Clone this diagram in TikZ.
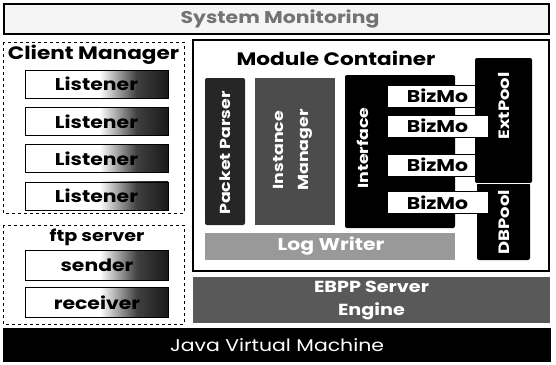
\documentclass[tikz,border=0pt]{standalone}
\usepackage{fontspec}
\setmainfont[FakeStretch=1.2]{Poppins}
\usetikzlibrary{positioning}

\pgfdeclarehorizontalshading{lstshade}{100bp}{color(0bp)=(white); color(25bp)=(white);
  color(51bp)=(white); color(64bp)=(black!75); color(75bp)=(black!90); color(100bp)=(black!90)}

\begin{document}
\begin{tikzpicture}[x=1pt,y=-1pt,inner sep=0pt,
    box/.style={draw, line width=0.8pt},
    lst/.style={box, minimum width=143pt, minimum height=28pt, shading=lstshade,
      font=\fontsize{17}{17}\selectfont\bfseries},
    group/.style={draw, dashed, line width=0.8pt},
    title/.style={font=\fontsize{18}{18}\selectfont\bfseries},
    dark/.style={fill=black, rounded corners=2pt, text=white},
    vert/.style={rotate=90, text=white, font=\fontsize{15}{15}\selectfont\bfseries, align=center},
    biz/.style={box, fill=white, minimum width=101pt, minimum height=22pt,
      font=\fontsize{17}{17}\selectfont\bfseries}]
  \useasboundingbox (0,0) rectangle (556,364);

  \node[box, line width=1.2pt, fill=black!4, minimum width=545pt, minimum height=30pt] (mon) at (276.5,19) {};
  \node[text=black!55, font=\fontsize{17}{17}\selectfont\bfseries] at (280,19) {System Monitoring};

  \draw[group] (3,42) rectangle (184,213);
  \node[title] (cm) at (93.5,55) {Client Manager};
  \node[lst] (l1) at (96.5,84) {Listener};
  \node[lst] (l2) [below=8.5pt of l1] {Listener};
  \node[lst] (l3) [below=8.5pt of l2] {Listener};
  \node[lst] (l4) [below=8.5pt of l3] {Listener};

  \draw[group] (3,225) rectangle (184,324);
  \node[title, font=\fontsize{16}{16}\selectfont\bfseries] (ftp) at (97,237) {ftp server};
  \node[lst, minimum height=30pt] (snd) at (97,265.5) {sender};
  \node[lst, minimum height=30pt] (rcv) [below=6pt of snd] {receiver};

  \draw[line width=1.8pt] (193,40) rectangle (549,271);
  \node[title] (mc) at (336,58) {Module Container};

  \node[dark, fill=black!85, rotate=90, minimum width=147pt, minimum height=40pt] (pp) at (225,151.5) {};
  \node[vert, font=\fontsize{14.5}{14.5}\selectfont\bfseries] at (225,153) {Packet Parser};
  \node[dark, fill=black!70, rounded corners=0pt, rotate=90, minimum width=147pt, minimum height=80pt] (im) at (295,151.5) {};
  \node[vert, font=\fontsize{14.5}{25}\selectfont\bfseries] at (293,150) {Instance\\Manager};
  \node[dark, minimum width=110pt, minimum height=153pt] (iface) at (400,151.5) {};
  \node[vert, font=\fontsize{14.5}{14.5}\selectfont\bfseries] at (363,148) {Interface};

  \node[biz] (b1) at (437.5,96) {BizMo};
  \node[biz] (b3) at (437.5,165) {BizMo};
  \node[dark, minimum width=57pt, minimum height=125pt] (ext) at (503.5,120.5) {};
  \node[dark, minimum width=53pt, minimum height=77pt] (db) at (503.5,221.5) {};
  \draw[white, line width=1pt] (ext.south west) -- (ext.south east);
  \node[vert] at (504,106) {ExtPool};
  \node[vert] at (504,222) {DBPool};
  \node[biz] (b2) at (437.5,126) {BizMo};
  \node[biz] (b4) at (437.5,202.5) {BizMo};

  \node[fill=black!40, minimum width=250pt, minimum height=27pt] (log) at (330,246.5) {};
  \node[text=white, font=\fontsize{17}{17}\selectfont\bfseries] at (331,246.5) {Log Writer};

  \node[fill=black!65, minimum width=357pt, minimum height=46pt, text=white, align=center,
    font=\fontsize{16}{23}\selectfont\bfseries] (ebpp) at (371.5,300) {EBPP Server\\Engine};

  \node[fill=black, minimum width=548pt, minimum height=34pt, text=white,
    font=\fontsize{17}{17}\selectfont] (jvm) at (277,345) {Java Virtual Machine};
\end{tikzpicture}
\end{document}
